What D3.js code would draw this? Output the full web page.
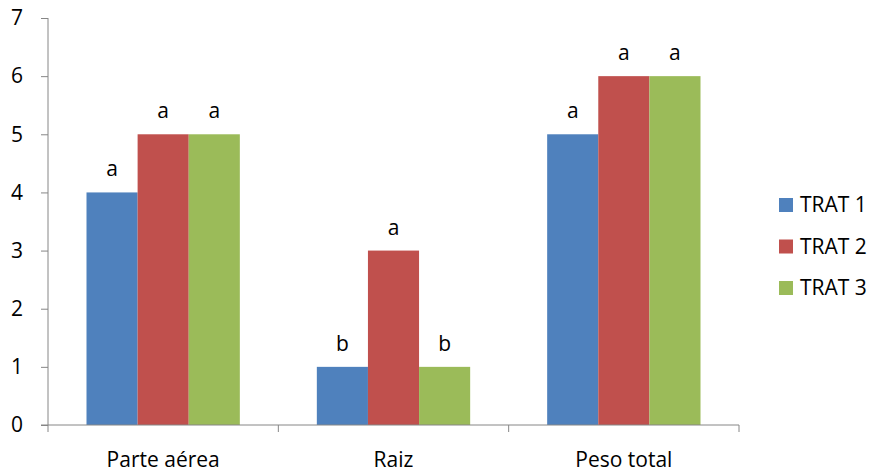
<!DOCTYPE html>
<html><head><meta charset="utf-8">
<script src="https://cdn.jsdelivr.net/npm/d3@7"></script>
<style>body{margin:0;background:#fff}svg{display:block}text{font-family:"Open Sans",sans-serif;fill:#000}</style>
</head><body><svg id="c" width="871" height="474"></svg>
<script>
const categories = ["Parte aérea", "Raiz", "Peso total"];
const seriesNames = ["TRAT 1", "TRAT 2", "TRAT 3"];
const trat1 = [4, 1, 5];
const trat2 = [5, 3, 6];
const trat3 = [5, 1, 6];
const letters1 = ["a", "b", "a"];
const letters2 = ["a", "a", "a"];
const letters3 = ["a", "b", "a"];
const yTicks = [0, 1, 2, 3, 4, 5, 6, 7];
const colors = ["#4F81BD", "#C0504D", "#9BBB59"];

const values = [trat1, trat2, trat3];
const letters = [letters1, letters2, letters3];
const svg = d3.select("#c");
const FS = 21;
const x0 = d3.scaleBand().domain(categories).range([48, 739]);
const x1 = d3.scaleBand().domain(seriesNames).range([38.5, x0.bandwidth() - 38.5]);
const y = d3.scaleLinear().domain([0, 7]).range([425, 18]);
const axisColor = "#868686";

// y axis
const ya = svg.append("g").attr("transform", "translate(48,0)")
  .call(d3.axisLeft(y).tickValues(yTicks).tickSize(7).tickPadding(18).tickFormat(d3.format("d")));
ya.select(".domain").attr("stroke", axisColor).attr("d", "M0,18V425");
ya.selectAll(".tick line").attr("stroke", axisColor);
ya.selectAll(".tick text").attr("font-size", FS).attr("font-family", "Open Sans").attr("fill", "#000");

// bars
categories.forEach((c, ci) => {
  seriesNames.forEach((s, si) => {
    const v = values[si][ci];
    svg.append("rect")
      .attr("x", x0(c) + x1(s)).attr("width", x1.bandwidth())
      .attr("y", y(v)).attr("height", y(0) - y(v))
      .attr("fill", colors[si]);
    svg.append("text")
      .attr("x", x0(c) + x1(s) + x1.bandwidth() / 2)
      .attr("y", y(v) - 16)
      .attr("text-anchor", "middle").attr("font-size", FS)
      .text(letters[si][ci]);
  });
});

// x axis
const xa = svg.append("g").attr("transform", "translate(0,425)");
xa.append("line").attr("x1", 41).attr("x2", 739).attr("stroke", axisColor);
const bounds = categories.map(c => x0(c)).concat([x0.range()[1]]);
xa.selectAll(".t").data(bounds).enter().append("line")
  .attr("x1", d => d).attr("x2", d => d).attr("y1", 0).attr("y2", 7).attr("stroke", axisColor);
xa.selectAll(".l").data(categories).enter().append("text")
  .attr("x", d => x0(d) + x0.bandwidth() / 2).attr("y", 42)
  .attr("text-anchor", "middle").attr("font-size", FS).text(d => d);

// legend
const lg = svg.append("g");
seriesNames.forEach((s, i) => {
  const cy = 205 + i * 41.5;
  lg.append("rect").attr("x", 779).attr("y", cy - 7).attr("width", 14).attr("height", 14).attr("fill", colors[i]);
  lg.append("text").attr("x", 800).attr("y", cy).attr("dy", "0.35em").attr("font-size", FS).text(s);
});
</script></body></html>
